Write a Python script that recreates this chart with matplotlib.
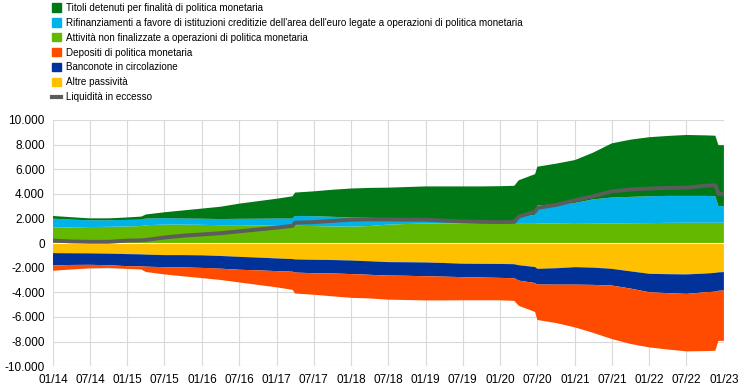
import numpy as np
import pandas as pd
import matplotlib
matplotlib.use('Agg')
import matplotlib.pyplot as plt
from matplotlib.patches import Patch
from matplotlib.lines import Line2D

plt.rcParams['font.family'] = ['Liberation Sans', 'DejaVu Sans']

dates = pd.to_datetime([
    '2014-01-01', '2014-04-01', '2014-07-01', '2014-10-01', '2015-01-01', '2015-03-10',
    '2015-04-01', '2015-07-01', '2015-10-01', '2016-01-01', '2016-04-01', '2016-07-01',
    '2016-10-01', '2017-01-01', '2017-03-20', '2017-04-01', '2017-07-01', '2017-10-01',
    '2018-01-01', '2018-04-01', '2018-07-01', '2018-10-01', '2019-01-01', '2019-04-01',
    '2019-07-01', '2019-10-01', '2020-01-01', '2020-03-10', '2020-04-01', '2020-06-20',
    '2020-07-01', '2020-10-01', '2021-01-01', '2021-04-01', '2021-07-01', '2021-10-01',
    '2022-01-01', '2022-04-01', '2022-07-01', '2022-10-01', '2022-11-20', '2022-12-05',
    '2023-01-01'])

# attivita (positive)
non_policy = [1250, 1270, 1300, 1320, 1350, 1380, 1450, 1500, 1500, 1480, 1450, 1450,
              1420, 1400, 1400, 1400, 1380, 1350, 1340, 1380, 1500, 1550, 1580, 1600,
              1600, 1620, 1630, 1630, 1620, 1620, 1600, 1580, 1560, 1570, 1600, 1610,
              1620, 1640, 1650, 1650, 1650, 1650, 1650]
refinancing = [730, 630, 550, 530, 530, 520, 550, 520, 500, 500, 500, 520,
               560, 600, 600, 800, 800, 780, 740, 670, 500, 430, 370, 250,
               180, 100, 70, 70, 480, 680, 1450, 1570, 1700, 1980, 2100, 2140,
               2180, 2190, 2180, 2180, 2150, 1350, 1350]
securities = [220, 200, 150, 150, 200, 250, 320, 480, 650, 820, 1000, 1230,
              1420, 1600, 1800, 1900, 2020, 2200, 2350, 2430, 2500, 2570, 2650, 2750,
              2820, 2880, 2920, 2950, 3000, 3300, 3150, 3300, 3480, 3800, 4400, 4650,
              4800, 4870, 4950, 4920, 4920, 4950, 4950]

# passivita (shown as negative)
other_liab = [820, 830, 840, 860, 900, 920, 940, 980, 980, 1000, 1050, 1120,
              1180, 1250, 1300, 1330, 1360, 1380, 1420, 1480, 1550, 1560, 1580, 1620,
              1680, 1690, 1700, 1720, 1800, 1950, 2100, 2050, 1960, 2000, 2100, 2300,
              2500, 2530, 2550, 2480, 2420, 2380, 2360]
banknotes = [1000, 950, 930, 940, 980, 980, 980, 980, 1000, 1020, 1030, 1050,
             1040, 1030, 1030, 1070, 1090, 1090, 1100, 1100, 1090, 1100, 1120, 1110,
             1090, 1110, 1130, 1140, 1250, 1300, 1270, 1330, 1420, 1400, 1350, 1400,
             1500, 1540, 1580, 1520, 1530, 1500, 1500]
deposits = [430, 370, 280, 220, 220, 250, 430, 590, 720, 830, 920, 1030,
            1180, 1320, 1470, 1700, 1750, 1860, 1930, 1920, 1960, 1970, 1960, 1930,
            1880, 1850, 1820, 1840, 2050, 2350, 2880, 3120, 3470, 3900, 4350, 4500,
            4480, 4580, 4670, 4780, 4800, 4070, 4090]

excess = [200, 130, 100, 100, 200, 220, 250, 450, 600, 700, 800, 950,
          1100, 1250, 1400, 1650, 1700, 1800, 1900, 1920, 1920, 1900, 1900, 1820,
          1760, 1720, 1700, 1720, 2150, 2550, 2850, 3100, 3480, 3800, 4200, 4350,
          4430, 4480, 4500, 4650, 4700, 4000, 4000]

labels = ['Titoli detenuti per finalità di politica monetaria',
          "Rifinanziamenti a favore di istituzioni creditizie dell'area dell'euro legate a operazioni di politica monetaria",
          'Attività non finalizzate a operazioni di politica monetaria',
          'Depositi di politica monetaria',
          'Banconote in circolazione',
          'Altre passività',
          'Liquidità in eccesso']

c_sec = '#007816'
c_ref = '#00B1EA'
c_np = '#65B800'
c_dep = '#FF4B00'
c_bn = '#003299'
c_oth = '#FFC000'
c_exc = '#5C5C5C'

fig = plt.figure(figsize=(7.44, 3.92), dpi=100)
ax = fig.add_axes([0.0712, 0.066, 0.9018, 0.628])

ax.stackplot(dates, non_policy, refinancing, securities,
             colors=[c_np, c_ref, c_sec], linewidth=0)
ax.stackplot(dates, -np.array(other_liab), -np.array(banknotes), -np.array(deposits),
             colors=[c_oth, c_bn, c_dep], linewidth=0)
ax.axhline(0, color='white', lw=0.8, zorder=3)
ax.plot(dates, excess, color=c_exc, lw=2.8, zorder=4)

ax.set_ylim(-10000, 10000)
ax.set_yticks(np.arange(-10000, 10001, 2000))
ax.set_yticklabels([f'{v:,}'.replace(',', '.') for v in range(-10000, 10001, 2000)])
ax.set_xlim(pd.Timestamp('2014-01-01'), pd.Timestamp('2023-01-01'))
xt = pd.date_range('2014-01-01', '2023-01-01', freq='6MS')
ax.set_xticks(xt)
ax.set_xticklabels([d.strftime('%m/%y') for d in xt])
ax.grid(True, color='#d9d9d9', lw=0.8)
ax.set_axisbelow(True)
for s in ax.spines.values():
    s.set_visible(False)
ax.tick_params(length=0, labelsize=8.5, colors='black', pad=6)

handles = [Patch(color=c_sec), Patch(color=c_ref), Patch(color=c_np),
           Patch(color=c_dep), Patch(color=c_bn), Patch(color=c_oth),
           Line2D([], [], color=c_exc, lw=3)]
fig.legend(handles, labels, loc='upper left', bbox_to_anchor=(0.064, 1.003),
           frameon=False, fontsize=7.1, handlelength=0.95, handleheight=0.95,
           handletextpad=0.5, labelspacing=0.5, borderaxespad=0)

fig.savefig('out.png', dpi=100)
